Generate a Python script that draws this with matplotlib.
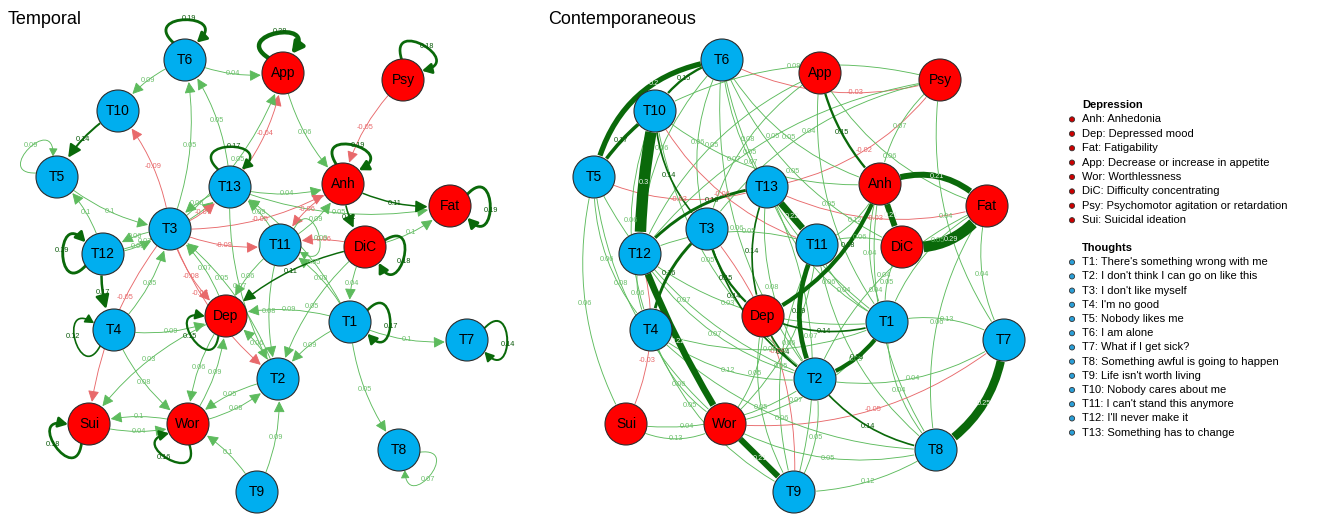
import numpy as np
import matplotlib.pyplot as plt
from matplotlib.patches import Circle, FancyArrowPatch
from matplotlib.path import Path

plt.rcParams['font.family'] = ['Liberation Sans', 'DejaVu Sans']

W, H = 1317, 514

# ---- nodes and legend text ----
depression = ["Anh", "Dep", "Fat", "App", "Wor", "DiC", "Psy", "Sui"]
depression_desc = ["Anhedonia", "Depressed mood", "Fatigability",
                   "Decrease or increase in appetite", "Worthlessness",
                   "Difficulty concentrating",
                   "Psychomotor agitation or retardation", "Suicidal ideation"]
thoughts = ["T1", "T2", "T3", "T4", "T5", "T6", "T7", "T8", "T9", "T10",
            "T11", "T12", "T13"]
thought_desc = ["There's something wrong with me",
                "I don't think I can go on like this", "I don't like myself",
                "I'm no good", "Nobody likes me", "I am alone",
                "What if I get sick?", "Something awful is going to happen",
                "Life isn't worth living", "Nobody cares about me",
                "I can't stand this anymore", "I'll never make it",
                "Something has to change"]

# ---- temporal network (directed, lag-1) ----
temporal_loops = {"T6": 0.19, "App": 0.28, "Psy": 0.18, "T5": 0.09,
                  "T13": 0.17, "Anh": 0.19, "Fat": 0.19, "DiC": 0.18,
                  "T12": 0.19, "T4": 0.12, "Dep": 0.15, "T1": 0.17,
                  "T7": 0.14, "Sui": 0.18, "Wor": 0.16, "T8": 0.07,
                  "T11": 0.09}
temporal_edges = [
    ("T6", "App", 0.04), ("T6", "T10", 0.09), ("T10", "T5", 0.14),
    ("T3", "T10", -0.09), ("T5", "T3", 0.10), ("T3", "T6", 0.05),
    ("T13", "T6", 0.05), ("T12", "T5", 0.10), ("T12", "T4", 0.17),
    ("T3", "T12", 0.06), ("T12", "T3", 0.08), ("T12", "T13", 0.07),
    ("T3", "T13", -0.07), ("T13", "T3", 0.06), ("T3", "T11", -0.09),
    ("T11", "T13", 0.09), ("T3", "Dep", -0.08), ("T3", "T2", -0.07),
    ("T3", "Sui", -0.05), ("T4", "Dep", 0.09), ("T4", "T3", 0.05),
    ("T4", "Wor", 0.08), ("Wor", "Dep", 0.09), ("Dep", "Wor", 0.06),
    ("Dep", "T3", 0.07), ("Wor", "T2", 0.08), ("T2", "Wor", 0.05),
    ("Wor", "Sui", 0.10), ("Sui", "Wor", 0.04), ("T9", "Wor", 0.10),
    ("T9", "T2", 0.09), ("Dep", "Sui", 0.03), ("T13", "App", -0.04),
    ("T3", "App", 0.05), ("App", "Anh", 0.06), ("T13", "Anh", 0.04),
    ("T3", "Anh", -0.05), ("Psy", "Anh", -0.05), ("Anh", "Fat", 0.11),
    ("Anh", "DiC", 0.12), ("DiC", "Fat", 0.10), ("T13", "Fat", 0.05),
    ("Anh", "T11", -0.06), ("T11", "Anh", 0.09), ("DiC", "T11", -0.06),
    ("T1", "T11", 0.08), ("DiC", "T1", 0.04), ("T1", "T7", 0.10),
    ("T1", "T8", 0.05), ("T1", "T2", 0.09), ("DiC", "T2", 0.05),
    ("DiC", "Dep", 0.11), ("T1", "Dep", 0.09), ("T11", "T2", 0.08),
    ("T13", "T2", 0.07), ("T2", "Dep", 0.06), ("T2", "T3", 0.05),
    ("T11", "Dep", 0.06), ("T1", "T13", 0.05),
]

# ---- contemporaneous network (undirected partial correlations) ----
cont_edges = [
    ("T10", "T12", 0.30), ("T6", "T5", 0.20), ("T10", "T5", 0.17),
    ("T6", "T10", 0.15), ("T12", "Wor", 0.22), ("Wor", "T9", 0.21),
    ("App", "Anh", 0.15), ("Anh", "Fat", 0.21), ("DiC", "Fat", 0.29),
    ("Anh", "DiC", 0.21), ("Anh", "Dep", 0.18), ("T13", "T11", 0.22),
    ("T11", "T2", 0.19), ("Dep", "T2", 0.14), ("Dep", "T1", 0.14),
    ("T1", "T2", 0.18), ("T7", "T8", 0.25), ("T8", "T9", 0.12),
    ("T2", "T8", 0.14), ("T13", "T12", 0.16), ("T3", "T4", 0.16),
    ("T10", "T3", 0.14), ("T3", "Dep", 0.15), ("T13", "Dep", 0.14),
    ("T3", "T2", 0.14), ("Sui", "Wor", 0.13), ("T11", "Anh", 0.12),
    ("T4", "T2", 0.12), ("T1", "T7", 0.13),
    ("T6", "T3", 0.06), ("T6", "T11", 0.07), ("T6", "DiC", 0.05),
    ("T6", "T1", 0.05), ("T6", "T2", 0.06), ("T6", "T12", 0.06),
    ("T6", "Anh", 0.05), ("T10", "Anh", 0.07), ("T10", "T4", 0.06),
    ("T10", "T2", 0.05), ("T10", "T11", -0.06), ("T5", "Sui", 0.06),
    ("T5", "T4", 0.06), ("T5", "Wor", 0.08), ("T5", "T2", 0.07),
    ("T5", "T13", -0.03), ("App", "T12", 0.05), ("App", "Fat", 0.06),
    ("App", "T1", 0.05), ("App", "T3", 0.08), ("T6", "Psy", -0.03),
    ("Psy", "T10", 0.09), ("Psy", "T3", 0.04), ("Psy", "Anh", 0.07),
    ("Psy", "T7", 0.04), ("Psy", "T12", 0.05), ("T13", "Psy", -0.02),
    ("Fat", "T7", 0.04), ("Fat", "T8", 0.06), ("Fat", "T1", 0.05),
    ("Fat", "T2", 0.04), ("T13", "Fat", -0.03), ("DiC", "T1", 0.05),
    ("DiC", "T11", 0.06), ("Anh", "T8", 0.04), ("Anh", "T1", 0.04),
    ("T11", "T1", 0.04), ("T11", "T9", 0.05), ("T11", "T8", 0.09),
    ("T11", "T12", 0.05), ("T13", "T1", 0.06), ("T13", "T2", 0.08),
    ("T12", "T2", 0.07), ("T12", "T1", 0.03), ("T12", "T4", 0.06),
    ("T4", "T1", 0.08), ("T4", "T8", 0.06), ("T4", "Wor", 0.06),
    ("Sui", "T12", -0.03), ("T4", "T9", 0.05), ("Wor", "T1", 0.07),
    ("Wor", "T11", 0.06), ("Wor", "T8", 0.05), ("Wor", "T7", -0.05),
    ("Wor", "Dep", 0.05), ("T9", "T3", -0.04), ("T9", "T2", 0.05),
    ("T9", "T13", 0.07), ("T2", "T7", 0.04), ("T1", "T8", 0.04),
    ("Dep", "T9", 0.05), ("Sui", "T2", 0.04),
]

# ---- layout (pixel positions of the temporal panel) ----
pos = {"T6": (185, 60), "App": (283, 73), "Psy": (403, 80), "T10": (118, 111),
       "T5": (57, 177), "T13": (230, 187), "Anh": (343, 184), "Fat": (450, 206),
       "T3": (170, 229), "T11": (280, 245), "DiC": (365, 247), "T12": (103, 254),
       "Dep": (226, 316), "T4": (114, 330), "T1": (350, 322), "T7": (467, 340),
       "T2": (278, 379), "Sui": (89, 424), "Wor": (188, 424), "T8": (399, 450),
       "T9": (257, 492)}
panel_shift = 537
R = 21
loop_angle = {"T6": 90, "App": 100, "Psy": 60, "T5": 135, "T13": 90, "Anh": 75,
              "Fat": 0, "DiC": 345, "T12": 180, "T4": 195, "Dep": 215, "T1": 0,
              "T7": 0, "Sui": 215, "Wor": 240, "T8": 320, "T11": 15}
cont_bend = {("T10", "T12"): 0.05, ("T6", "T5"): 0.35, ("T10", "T5"): 0.1,
             ("T12", "Wor"): 0.05, ("Wor", "T9"): 0.0, ("App", "Anh"): 0.15,
             ("Anh", "Fat"): -0.35, ("DiC", "Fat"): 0.3, ("Anh", "DiC"): 0.0,
             ("Anh", "Dep"): -0.2, ("T13", "T11"): 0.0, ("T11", "T2"): 0.25,
             ("T7", "T8"): -0.25, ("T8", "T9"): -0.15, ("T1", "T2"): -0.2,
             ("T1", "T7"): -0.2, ("Sui", "Wor"): 0.3}

BLUE, RED = "#00AEEF", "#FF0000"
POS_DARK, POS_LIGHT = "#0A690A", "#5DBB5D"
NEG_DARK, NEG_LIGHT = "#D42A2A", "#E8696B"


def style(w, cut, wmax, esize):
    if abs(w) >= cut:
        col = POS_DARK if w > 0 else NEG_DARK
        lw = 1.4 + (abs(w) - cut) / (wmax - cut) * esize
        lab = "#0A5A0A" if w > 0 else NEG_DARK
    else:
        col = POS_LIGHT if w > 0 else NEG_LIGHT
        lw = 0.9
        lab = "#6CC06C" if w > 0 else NEG_LIGHT
    return col, lw, lab


def fmt(w):
    return f"{w:.2f}".rstrip("0").rstrip(".")


def unit(deg):
    a = np.deg2rad(deg)
    return np.array([np.cos(a), -np.sin(a)])


def near_node(pt, shift):
    for x, y in pos.values():
        if np.hypot(pt[0] - x - shift, pt[1] - y) < R + 5:
            return True
    return False


def draw_edge(ax, p, q, w, rad, directed, cut, wmax, esize, shift):
    col, lw, lab = style(w, cut, wmax, esize)
    if directed:
        astyle = "-|>,head_length=0.6,head_width=0.3"
        ms = 10 + lw * 1.5
    else:
        astyle = "-"
        ms = 10
    ax.add_patch(FancyArrowPatch(p, q, connectionstyle=f"arc3,rad={rad}",
                                 arrowstyle=astyle, mutation_scale=ms,
                                 lw=lw * 0.72, color=col, shrinkA=15.5,
                                 shrinkB=16, zorder=1 + abs(w), capstyle="butt"))
    # label on the quadratic curve, moved along it if it would sit under a node
    p0, p2 = np.asarray(p, float), np.asarray(q, float)
    d = p2 - p0
    ctrl = (p0 + p2) / 2 + rad * np.array([-d[1], d[0]])
    for t in (0.5, 0.38, 0.62, 0.3, 0.7):
        lp = (1 - t) ** 2 * p0 + 2 * t * (1 - t) * ctrl + t ** 2 * p2
        if not near_node(lp, shift):
            break
    tcol = "#E8F2E8" if lw > 5 else lab
    ax.text(lp[0], lp[1], fmt(w), fontsize=5.3, color=tcol, ha="center",
            va="center", zorder=2 + abs(w))


def draw_loop(ax, c, ang, w, cut, wmax, esize):
    col, lw, lab = style(w, cut, wmax, esize)
    c = np.asarray(c, float)
    p0 = c + R * unit(ang + 34)
    p3 = c + R * unit(ang - 34)
    c1 = c + 3.1 * R * unit(ang + 43)
    c2 = c + 3.1 * R * unit(ang - 43)
    path = Path([p0, c1, c2, p3], [Path.MOVETO, Path.CURVE4, Path.CURVE4,
                                    Path.CURVE4])
    ax.add_patch(FancyArrowPatch(path=path,
                                 arrowstyle="-|>,head_length=0.55,head_width=0.3",
                                 mutation_scale=8 + lw * 0.8, lw=lw * 0.72,
                                 color=col, zorder=1 + abs(w)))
    lp = c + (R + 20) * unit(ang) + 4 * unit(ang - 90)
    ax.text(lp[0], lp[1], fmt(w), fontsize=5.3, color=lab, ha="center",
            va="center", zorder=2 + abs(w))


def draw_nodes(ax, shift):
    for name, (x, y) in pos.items():
        fc = RED if name in depression else BLUE
        ax.add_patch(Circle((x + shift, y), R, facecolor=fc,
                            edgecolor="#2B2B2B", lw=0.8, zorder=5))
        ax.text(x + shift, y, name, fontsize=10, ha="center", va="center",
                color="black", zorder=6)


fig = plt.figure(figsize=(W / 100, H / 100), dpi=100)
ax = fig.add_axes([0, 0, 1, 1])
ax.set_xlim(0, W)
ax.set_ylim(H, 0)
ax.axis("off")

# temporal panel
for a, b, w in sorted(temporal_edges, key=lambda e: abs(e[2])):
    draw_edge(ax, pos[a], pos[b], w, 0.15, True, 0.105, 0.28, 3.0, 0)
for n, w in temporal_loops.items():
    draw_loop(ax, pos[n], loop_angle[n], w, 0.105, 0.28, 3.0)
draw_nodes(ax, 0)
ax.text(8, 20, "Temporal", fontsize=13, va="center", ha="left")

# contemporaneous panel
for a, b, w in sorted(cont_edges, key=lambda e: abs(e[2])):
    p = (pos[a][0] + panel_shift, pos[a][1])
    q = (pos[b][0] + panel_shift, pos[b][1])
    draw_edge(ax, p, q, w, cont_bend.get((a, b), 0.2), False, 0.135, 0.30, 10,
              panel_shift)
draw_nodes(ax, panel_shift)
ax.text(548, 20, "Contemporaneous", fontsize=13, va="center", ha="left")

# legend
y = 105
ax.text(1082, y, "Depression", fontsize=8, fontweight="bold", va="center")
for code, desc in zip(depression, depression_desc):
    y += 14.4
    ax.add_patch(Circle((1072, y), 2.6, facecolor="#CC0000",
                        edgecolor="#333333", lw=0.6))
    ax.text(1082, y, f"{code}: {desc}", fontsize=8, va="center")
y = 248
ax.text(1082, y, "Thoughts", fontsize=8, fontweight="bold", va="center")
for code, desc in zip(thoughts, thought_desc):
    y += 14.2
    ax.add_patch(Circle((1072, y), 2.6, facecolor="#2A9FD8",
                        edgecolor="#333333", lw=0.6))
    ax.text(1082, y, f"{code}: {desc}", fontsize=8, va="center")

fig.savefig("out.png", dpi=100, facecolor="white")
